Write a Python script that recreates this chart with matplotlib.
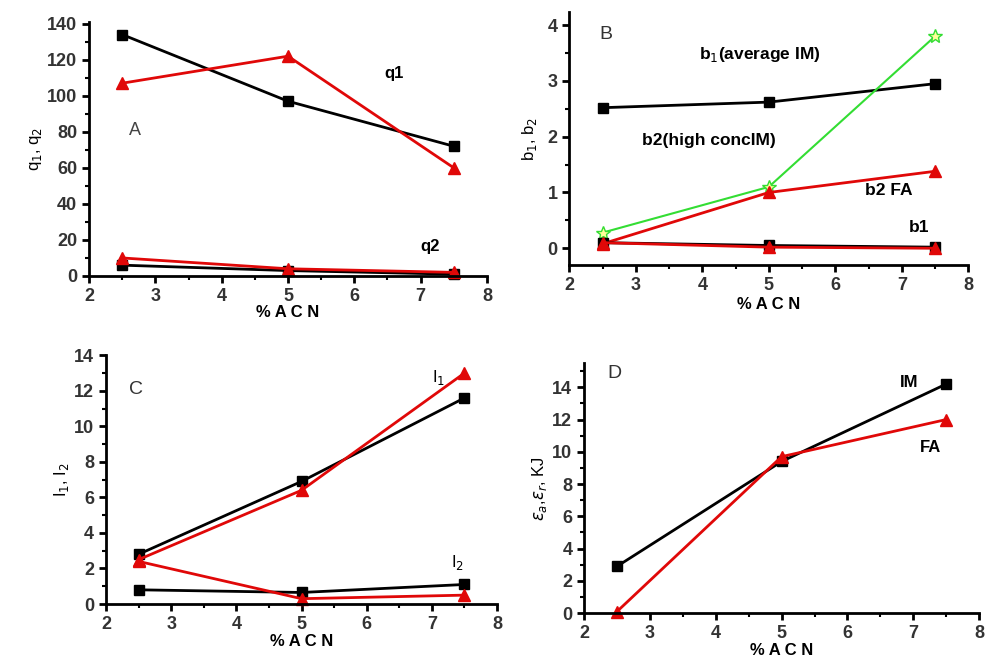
import matplotlib.pyplot as plt
from matplotlib.ticker import MultipleLocator

acn = [2.5, 5.0, 7.5]

# panel A
q1_im = [134, 97, 72]
q1_fa = [107, 122, 60]
q2_im = [6, 3, 1]
q2_fa = [10, 4, 2]

# panel B
b2_avg_im = [2.52, 2.62, 2.95]
b2_high_im = [0.28, 1.10, 3.80]
b2_fa = [0.08, 1.00, 1.38]
b1_im = [0.10, 0.05, 0.02]
b1_fa = [0.10, 0.02, 0.00]

# panel C
i1_im = [2.8, 6.9, 11.6]
i1_fa = [2.5, 6.4, 13.0]
i2_im = [0.8, 0.65, 1.1]
i2_fa = [2.4, 0.3, 0.5]

# panel D
e_im = [2.9, 9.4, 14.2]
e_fa = [0.1, 9.7, 12.0]

RED = '#e00808'
GREEN = '#33dd33'

plt.rcParams['font.family'] = ['Liberation Sans', 'DejaVu Sans']

fig = plt.figure(figsize=(9.85, 6.65), dpi=100)


def style_axes(ax, ylim, ymajor, yminor, xpad=0):
  ax.set_xlim(2, 8)
  ax.set_ylim(*ylim)
  ax.spines['top'].set_visible(False)
  ax.spines['right'].set_visible(False)
  ax.spines['left'].set_linewidth(2)
  ax.spines['bottom'].set_linewidth(2)
  ax.xaxis.set_major_locator(MultipleLocator(1))
  ax.xaxis.set_minor_locator(MultipleLocator(0.5))
  ax.yaxis.set_major_locator(MultipleLocator(ymajor))
  ax.yaxis.set_minor_locator(MultipleLocator(yminor))
  ax.tick_params(which='major', direction='out', length=5, width=2, labelsize=13)
  ax.tick_params(which='minor', direction='out', length=3, width=1.5)
  for lbl in ax.get_xticklabels() + ax.get_yticklabels():
    lbl.set_fontweight('bold')
    lbl.set_color('#333333')
  ax.set_xlabel('% A C N', fontsize=12, fontweight='bold', labelpad=xpad)


def im_line(ax, ys):
  ax.plot(acn, ys, color='black', lw=2, marker='s', ms=7, clip_on=False)


def fa_line(ax, ys):
  ax.plot(acn, ys, color=RED, lw=2, marker='^', ms=9, clip_on=False)


# A
ax = fig.add_axes([0.0904, 0.585, 0.404, 0.382])
im_line(ax, q1_im)
fa_line(ax, q1_fa)
im_line(ax, q2_im)
fa_line(ax, q2_fa)
style_axes(ax, (0, 141), 20, 10, xpad=0.5)
ax.set_ylabel('q$_1$, q$_2$', fontsize=12, labelpad=2)
ax.text(2.6, 78, 'A', fontsize=13, color='#444444')
ax.text(6.45, 110, 'q1', fontsize=12, fontweight='bold')
ax.text(7.0, 14, 'q2', fontsize=12, fontweight='bold')

# B
ax = fig.add_axes([0.578, 0.6015, 0.405, 0.38])
im_line(ax, b2_avg_im)
ax.plot(acn, b2_high_im, color=GREEN, lw=1.5, marker='*', ms=10,
        markerfacecolor='#ffff99', markeredgecolor=GREEN, clip_on=False)
fa_line(ax, b2_fa)
im_line(ax, b1_im)
fa_line(ax, b1_fa)
style_axes(ax, (-0.3, 4.23), 1, 0.5, xpad=2)
ax.set_ylabel('b$_1$, b$_2$', fontsize=12, labelpad=6)
ax.text(2.45, 3.75, 'B', fontsize=14, color='#333333')
ax.text(3.95, 3.4, 'b$_1$(average IM)', fontsize=12.5, fontweight='bold')
ax.text(3.1, 1.85, 'b2(high concIM)', fontsize=12.5, fontweight='bold')
ax.text(6.45, 0.95, 'b2 FA', fontsize=12.5, fontweight='bold')
ax.text(7.1, 0.3, 'b1', fontsize=12.5, fontweight='bold')

# C
ax = fig.add_axes([0.1076, 0.0917, 0.397, 0.374])
im_line(ax, i1_im)
fa_line(ax, i1_fa)
im_line(ax, i2_im)
fa_line(ax, i2_fa)
style_axes(ax, (0, 14), 2, 1, xpad=0.5)
ax.set_ylabel('I$_1$, I$_2$', fontsize=12, labelpad=2)
ax.text(2.35, 11.8, 'C', fontsize=14, color='#333333')
ax.text(7.0, 12.5, 'I$_1$', fontsize=12)
ax.text(7.3, 2.1, 'I$_2$', fontsize=12)

# D
ax = fig.add_axes([0.593, 0.078, 0.401, 0.376])
im_line(ax, e_im)
fa_line(ax, e_fa)
style_axes(ax, (0, 15.5), 2, 1, xpad=0.5)
ax.set_ylabel(r'$\varepsilon_a$,$\varepsilon_r$, KJ', fontsize=12, labelpad=2)
ax.text(2.35, 14.6, 'D', fontsize=14, color='#333333')
ax.text(6.8, 14.0, 'IM', fontsize=12, fontweight='bold')
ax.text(7.1, 10.0, 'FA', fontsize=12, fontweight='bold')

fig.savefig('out.png', dpi=100)
